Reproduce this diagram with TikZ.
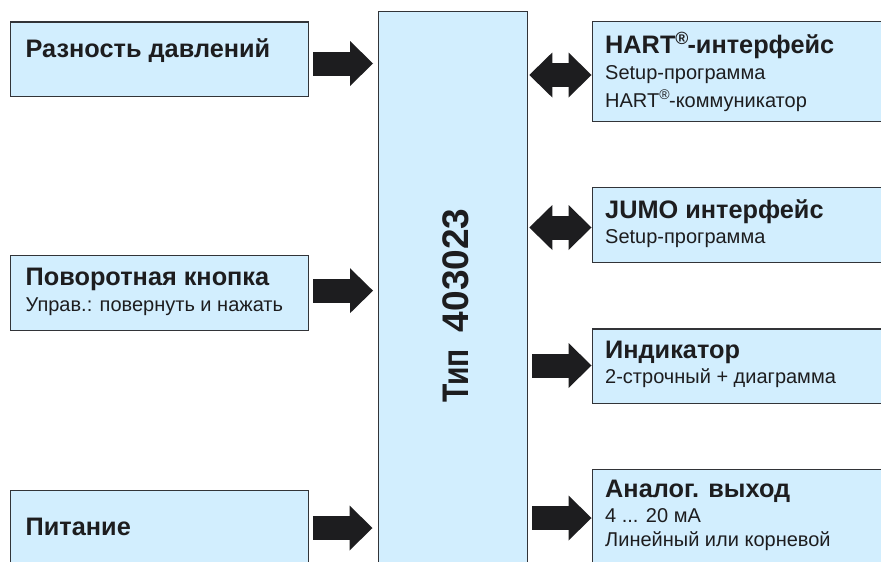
\documentclass[tikz,border=0pt]{standalone}
\usepackage{fontspec}
\setmainfont{Liberation Sans}
\usetikzlibrary{arrows.meta}
\definecolor{boxfill}{RGB}{210,238,254}
\definecolor{boxline}{RGB}{50,52,56}
\definecolor{ink}{RGB}{29,29,31}
\tikzset{
  x=1pt,y=-1pt,
  blockbox/.style={draw=boxline,line width=1.3pt,fill=boxfill,inner sep=0pt},
  headtext/.style={anchor=base west,inner sep=0pt,text=ink,font=\fontsize{25.3}{28}\selectfont\bfseries},
  subtext/.style={anchor=base west,inner sep=0pt,text=ink,font=\fontsize{20}{22}\selectfont},
  oneway/.style={draw=ink,line width=24pt,-{Triangle[length=23pt,width=45pt,fill=ink,line width=0pt]}},
}
\newcommand{\blockbox}[5]{\node[blockbox,anchor=north west,minimum width=#4pt,minimum height=#5pt] (#1) at (#2,#3) {};}
\begin{document}
\begin{tikzpicture}
\useasboundingbox (0,0) rectangle (881,562);
\fill[white] (0,0) rectangle (881,562);
\blockbox{main}{378}{11}{149}{580}
\blockbox{diff}{10}{21.2}{297.5}{74.8}
\blockbox{knob}{10}{255}{297.5}{74.8}
\blockbox{power}{10}{489.5}{297.5}{100}
\blockbox{hart}{591.5}{21}{320}{99.8}
\blockbox{jumo}{591.5}{186.8}{320}{75}
\blockbox{disp}{591.5}{328.3}{320}{74.7}
\blockbox{analog}{591.5}{469}{320}{120}

\node[headtext] (t1) at (25.5,57.5) {Разность давлений};
\node[headtext] (t2) at (25.5,285.5) {Поворотная кнопка};
\node[subtext] (t2b) at (25.5,311) {Управ.: повернуть и нажать};
\node[headtext] (t3) at (25.5,535) {Питание};
\node[headtext] (t4) at (605,53.5) {HART\textsuperscript{®}\kern-1.5pt-интерфейс};
\node[subtext] (t4b) at (605,79) {Setup-программа};
\node[subtext] (t4c) at (605,107.5) {HART\textsuperscript{®}\kern-1pt-коммуникатор};
\node[headtext] (t5) at (605,218) {JUMO интерфейс};
\node[subtext] (t5b) at (605,243.5) {Setup-программа};
\node[headtext] (t6) at (605,358) {Индикатор};
\node[subtext] (t6b) at (605,383.5) {2-строчный + диаграмма};
\node[headtext] (t7) at (605,497) {Аналог. выход};
\node[subtext] (t7b) at (605,522) {4 ... 20 мА};
\node[subtext] (t7c) at (605,546) {Линейный или корневой};
\node[anchor=base west,inner sep=0pt,text=ink,rotate=90,font=\fontsize{37}{40}\selectfont\bfseries] (t8) at (468.3,403) {\scalebox{0.81}[1]{Тип}\hspace*{17pt}403023};

\draw[oneway,shorten <=4.5pt,shorten >=5pt] (diff.east |- 0,63.5) -- (main.west |- 0,63.5);
\draw[oneway,shorten <=4.5pt,shorten >=5pt] (knob.east |- 0,290.7) -- (main.west |- 0,290.7);
\draw[oneway,shorten <=4pt,shorten >=5.5pt] (power.east |- 0,528) -- (main.west |- 0,528);
\draw[oneway,shorten <=20pt] (main.east |- 0,75) -- (hart.west |- 0,75);
\draw[oneway,shorten <=20pt,shorten >=1pt] (hart.west |- 0,75) -- (main.east |- 0,75);
\draw[oneway,shorten <=20pt] (main.east |- 0,227.5) -- (jumo.west |- 0,227.5);
\draw[oneway,shorten <=20pt,shorten >=1pt] (jumo.west |- 0,227.5) -- (main.east |- 0,227.5);
\draw[oneway,shorten <=4pt] (main.east |- 0,365.5) -- (disp.west |- 0,365.5);
\draw[oneway,shorten <=4pt] (main.east |- 0,518) -- (analog.west |- 0,518);
\end{tikzpicture}
\end{document}
